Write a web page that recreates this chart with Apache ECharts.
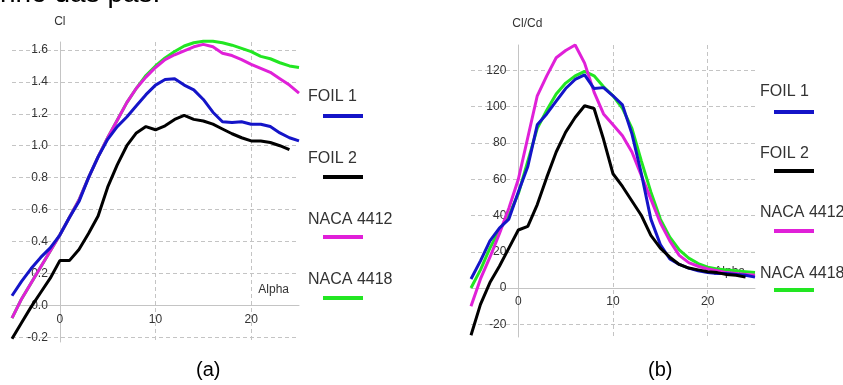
<!DOCTYPE html>
<html>
<head>
<meta charset="utf-8">
<script src="https://cdn.jsdelivr.net/npm/echarts@6/dist/echarts.min.js"></script>
<style>
  html, body { margin: 0; padding: 0; background: #fff; }
  #main { width: 843px; height: 385px; }
</style>
</head>
<body>
<div id="main"></div>
<script>
// angle of attack, shared by every curve
var alpha = [-5, -4, -3, -2, -1, 0, 1, 2, 3, 4, 5, 6, 7, 8, 9, 10, 11, 12, 13, 14, 15, 16, 17, 18, 19, 20, 21, 22, 23, 24, 25];

// (a) Cl
var clFoil1 = [0.06, 0.15, 0.23, 0.30, 0.36, 0.44, 0.55, 0.65, 0.80, 0.93, 1.04, 1.12, 1.18, 1.25, 1.32, 1.38, 1.415, 1.42, 1.38, 1.35, 1.29, 1.21, 1.15, 1.145, 1.15, 1.135, 1.135, 1.12, 1.08, 1.05, 1.03];
var clFoil2 = [-0.21, -0.11, -0.01, 0.08, 0.17, 0.28, 0.28, 0.35, 0.45, 0.56, 0.74, 0.88, 1.00, 1.08, 1.12, 1.10, 1.125, 1.165, 1.19, 1.165, 1.155, 1.135, 1.105, 1.075, 1.05, 1.03, 1.03, 1.02, 1.00, 0.975, null];
var clNaca4412 = [-0.08, 0.04, 0.14, 0.24, 0.34, 0.44, 0.55, 0.66, 0.80, 0.93, 1.05, 1.16, 1.27, 1.36, 1.43, 1.49, 1.54, 1.57, 1.595, 1.62, 1.635, 1.62, 1.58, 1.565, 1.54, 1.51, 1.485, 1.46, 1.42, 1.38, 1.33];
var clNaca4418 = [-0.08, 0.04, 0.14, 0.24, 0.34, 0.44, 0.55, 0.66, 0.80, 0.93, 1.05, 1.16, 1.27, 1.36, 1.44, 1.50, 1.55, 1.59, 1.625, 1.645, 1.655, 1.655, 1.645, 1.63, 1.61, 1.59, 1.56, 1.545, 1.52, 1.50, 1.49];

// (b) Cl/Cd
var ldFoil1 = [5, 15, 26, 33, 38, 53, 67, 90, 96, 103, 110, 115, 117.5, 110, 110.5, 106, 101, 85, 63, 38, 24, 16, 13, 11, 9.5, 8.5, 8, 8, 7.5, 7, 6];
var ldFoil2 = [-26, -9, 3, 12, 22, 32, 34, 46, 61, 75, 86, 94, 100.5, 99, 82, 63, 56, 48, 40, 29, 22, 17, 13, 11, 10, 9, 8.5, 7.5, 7, 6, null];
var ldNaca4412 = [-10, 5, 17, 30, 44, 60, 83, 106, 117, 127, 131, 134, 124, 108, 96, 90, 84, 75, 62, 49, 36, 26, 18, 14, 12, 10.5, 9.5, 8.5, 8, 7.5, 7];
var ldNaca4418 = [0, 10, 22, 32, 40, 52, 70, 88, 98, 107, 113, 117, 119.5, 117, 111, 106, 99, 88, 70, 53, 38, 28, 21, 16.5, 13.5, 11.5, 10.5, 10, 9.5, 9, 8.5];

var seriesNames = ['FOIL 1', 'FOIL 2', 'NACA 4412', 'NACA 4418'];
var seriesColors = ['#1414c8', '#000000', '#e020d8', '#22e622'];

var alphaTicks = [0, 10, 20];
var clTicks = [-0.2, 0, 0.2, 0.4, 0.6, 0.8, 1.0, 1.2, 1.4, 1.6];
var ldTicks = [-20, 0, 20, 40, 60, 80, 100, 120];

var clData = [clFoil1, clFoil2, clNaca4412, clNaca4418];
var ldData = [ldFoil1, ldFoil2, ldNaca4412, ldNaca4418];
// drawing order: green at the bottom, then magenta, blue, black
var drawOrder = [3, 2, 0, 1];

var alphaRange = [-5, 25];
var clRange = [-0.23, 1.65];
var ldRange = [-27, 134];
var grids = [
  { left: 12, top: 42, width: 287, height: 300, containLabel: false, outerBoundsMode: 'none' },
  { left: 471, top: 45, width: 284, height: 292, containLabel: false, outerBoundsMode: 'none' }
];

var gridLine = { show: true, lineStyle: { color: '#c4c4c4', type: [4, 3], width: 1 } };
var axisLineStyle = { show: true, onZero: false, lineStyle: { color: '#c4c4c4', width: 1 } };
var labelFont = { color: '#333', fontSize: 12, fontFamily: 'Liberation Sans' };

function pairs(values) {
  return alpha.map(function (a, i) {
    return [a, values[i]];
  });
}

// axes cross at the origin: shift each axis from the grid edge to zero
function zeroShift(range, size) {
  return -size * (0 - range[0]) / (range[1] - range[0]);
}

function xAxisFor(gridIndex, yRange) {
  return {
    type: 'value', gridIndex: gridIndex, min: alphaRange[0], max: alphaRange[1],
    offset: zeroShift(yRange, grids[gridIndex].height),
    name: 'Alpha', nameLocation: 'end', nameGap: -10,
    nameTextStyle: { color: '#333', fontSize: 12, fontFamily: 'Liberation Sans', align: 'right', verticalAlign: 'bottom', padding: [0, 0, 10, 0] },
    axisLine: axisLineStyle,
    axisTick: { show: false, customValues: alphaTicks },
    axisLabel: Object.assign({ customValues: alphaTicks, margin: 8 }, labelFont),
    splitLine: gridLine
  };
}

var graphics = [];
// legend blocks, text above a short coloured line
var legendSpots = [
  { textX: 308, textY: [98, 160, 221, 281], lineX: 323, lineY: [116, 177, 237, 298] },
  { textX: 760, textY: [93, 155, 214, 275], lineX: 774, lineY: [112, 171, 231, 290] }
];
legendSpots.forEach(function (spot) {
  seriesNames.forEach(function (name, i) {
    graphics.push({
      type: 'text', left: spot.textX, top: spot.textY[i] - 9,
      style: { text: name, fill: '#333', font: '16px "Liberation Sans"' }
    });
    graphics.push({
      type: 'rect', shape: { x: spot.lineX, y: spot.lineY[i] - 2, width: 40, height: 4 },
      style: { fill: seriesColors[i] }
    });
  });
});
graphics.push({ type: 'text', left: 208 - 12, top: 360, style: { text: '(a)', fill: '#000', font: '20px "Liberation Sans"' } });
graphics.push({ type: 'text', left: 660 - 12, top: 360, style: { text: '(b)', fill: '#000', font: '20px "Liberation Sans"' } });
graphics.push({ type: 'text', left: 0, top: -20, style: { text: 'nho das pás.', fill: '#000', font: '28px "Liberation Sans"' } });

var series = [];
drawOrder.forEach(function (k) {
  series.push({
    name: seriesNames[k], type: 'line', xAxisIndex: 0, yAxisIndex: 0,
    data: pairs(clData[k]), showSymbol: false, symbol: 'none', clip: false,
    lineStyle: { color: seriesColors[k], width: 3 }, itemStyle: { color: seriesColors[k] }
  });
});
drawOrder.forEach(function (k) {
  series.push({
    name: seriesNames[k], type: 'line', xAxisIndex: 1, yAxisIndex: 1,
    data: pairs(ldData[k]), showSymbol: false, symbol: 'none', clip: false,
    lineStyle: { color: seriesColors[k], width: 3 }, itemStyle: { color: seriesColors[k] }
  });
});

var options = {
  animation: false,
  backgroundColor: '#fff',
  grid: grids,
  xAxis: [xAxisFor(0, clRange), xAxisFor(1, ldRange)],
  yAxis: [
    {
      type: 'value', gridIndex: 0, min: clRange[0], max: clRange[1],
      offset: zeroShift(alphaRange, grids[0].width),
      name: 'Cl', nameGap: 14, nameTextStyle: { color: '#333', fontSize: 12, fontFamily: 'Liberation Sans' },
      axisLine: axisLineStyle,
      axisTick: { show: false, customValues: clTicks },
      axisLabel: Object.assign({ customValues: clTicks, margin: 12, formatter: function (v) { return v.toFixed(1); } }, labelFont),
      splitLine: gridLine
    },
    {
      type: 'value', gridIndex: 1, min: ldRange[0], max: ldRange[1],
      offset: zeroShift(alphaRange, grids[1].width),
      name: 'Cl/Cd', nameGap: 15, nameTextStyle: { color: '#333', fontSize: 12, fontFamily: 'Liberation Sans', padding: [0, 0, 0, 18] },
      axisLine: axisLineStyle,
      axisTick: { show: false, customValues: ldTicks },
      axisLabel: Object.assign({ customValues: ldTicks, margin: 12 }, labelFont),
      splitLine: gridLine
    }
  ],
  graphic: graphics,
  series: series
};

var chart = echarts.init(document.getElementById('main'), null, { renderer: 'canvas' });
chart.setOption(options);
</script>
</body>
</html>
